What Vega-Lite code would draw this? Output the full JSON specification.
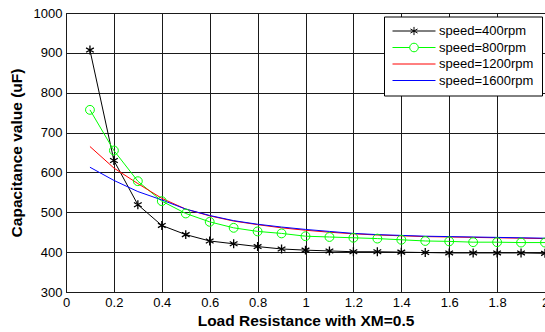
{
  "$schema": "https://vega.github.io/schema/vega-lite/v6.json",
  "width": 479,
  "height": 279,
  "autosize": {"type": "none"},
  "padding": {"left": 66, "top": 13, "right": 0, "bottom": 40},
  "background": "white",
  "config": {
    "font": "Liberation Sans",
    "view": {"stroke": "#000", "strokeWidth": 1},
    "axis": {
      "domain": false, "ticks": false, "grid": true,
      "gridColor": "#1a1a1a", "gridWidth": 1, "gridOpacity": 1,
      "labelFont": "Liberation Sans", "labelFontSize": 13, "labelColor": "#000",
      "titleFont": "Liberation Sans", "titleFontSize": 15.5, "titleFontWeight": "bold", "titleColor": "#000",
      "labelPadding": 4, "labelFlush": false, "labelOverlap": false
    }
  },
  "data": {"values": [
    {"x":0.1,"v":907,"s":"speed=400rpm"},{"x":0.2,"v":630,"s":"speed=400rpm"},{"x":0.3,"v":519,"s":"speed=400rpm"},{"x":0.4,"v":467,"s":"speed=400rpm"},{"x":0.5,"v":444,"s":"speed=400rpm"},{"x":0.6,"v":428,"s":"speed=400rpm"},{"x":0.7,"v":421,"s":"speed=400rpm"},{"x":0.8,"v":414,"s":"speed=400rpm"},{"x":0.9,"v":408,"s":"speed=400rpm"},{"x":1.0,"v":405,"s":"speed=400rpm"},{"x":1.1,"v":403,"s":"speed=400rpm"},{"x":1.2,"v":401,"s":"speed=400rpm"},{"x":1.3,"v":401,"s":"speed=400rpm"},{"x":1.4,"v":400,"s":"speed=400rpm"},{"x":1.5,"v":399,"s":"speed=400rpm"},{"x":1.6,"v":398,"s":"speed=400rpm"},{"x":1.7,"v":398,"s":"speed=400rpm"},{"x":1.8,"v":398,"s":"speed=400rpm"},{"x":1.9,"v":398,"s":"speed=400rpm"},{"x":2.0,"v":397,"s":"speed=400rpm"},
    {"x":0.1,"v":757,"s":"speed=800rpm"},{"x":0.2,"v":655,"s":"speed=800rpm"},{"x":0.3,"v":578,"s":"speed=800rpm"},{"x":0.4,"v":528,"s":"speed=800rpm"},{"x":0.5,"v":497,"s":"speed=800rpm"},{"x":0.6,"v":476,"s":"speed=800rpm"},{"x":0.7,"v":461,"s":"speed=800rpm"},{"x":0.8,"v":452,"s":"speed=800rpm"},{"x":0.9,"v":447,"s":"speed=800rpm"},{"x":1.0,"v":440,"s":"speed=800rpm"},{"x":1.1,"v":438,"s":"speed=800rpm"},{"x":1.2,"v":436,"s":"speed=800rpm"},{"x":1.3,"v":434,"s":"speed=800rpm"},{"x":1.4,"v":431,"s":"speed=800rpm"},{"x":1.5,"v":428,"s":"speed=800rpm"},{"x":1.6,"v":427,"s":"speed=800rpm"},{"x":1.7,"v":425,"s":"speed=800rpm"},{"x":1.8,"v":425,"s":"speed=800rpm"},{"x":1.9,"v":424,"s":"speed=800rpm"},{"x":2.0,"v":424,"s":"speed=800rpm"},
    {"x":0.1,"v":665,"s":"speed=1200rpm"},{"x":0.2,"v":611,"s":"speed=1200rpm"},{"x":0.3,"v":572,"s":"speed=1200rpm"},{"x":0.4,"v":535,"s":"speed=1200rpm"},{"x":0.5,"v":508,"s":"speed=1200rpm"},{"x":0.6,"v":491,"s":"speed=1200rpm"},{"x":0.7,"v":478,"s":"speed=1200rpm"},{"x":0.8,"v":469,"s":"speed=1200rpm"},{"x":0.9,"v":461,"s":"speed=1200rpm"},{"x":1.0,"v":455,"s":"speed=1200rpm"},{"x":1.1,"v":450,"s":"speed=1200rpm"},{"x":1.2,"v":446,"s":"speed=1200rpm"},{"x":1.3,"v":443,"s":"speed=1200rpm"},{"x":1.4,"v":441,"s":"speed=1200rpm"},{"x":1.5,"v":439,"s":"speed=1200rpm"},{"x":1.6,"v":438,"s":"speed=1200rpm"},{"x":1.7,"v":437,"s":"speed=1200rpm"},{"x":1.8,"v":436,"s":"speed=1200rpm"},{"x":1.9,"v":435,"s":"speed=1200rpm"},{"x":2.0,"v":434,"s":"speed=1200rpm"},
    {"x":0.1,"v":613,"s":"speed=1600rpm"},{"x":0.2,"v":580,"s":"speed=1600rpm"},{"x":0.3,"v":552,"s":"speed=1600rpm"},{"x":0.4,"v":531,"s":"speed=1600rpm"},{"x":0.5,"v":508,"s":"speed=1600rpm"},{"x":0.6,"v":492,"s":"speed=1600rpm"},{"x":0.7,"v":479,"s":"speed=1600rpm"},{"x":0.8,"v":470,"s":"speed=1600rpm"},{"x":0.9,"v":463,"s":"speed=1600rpm"},{"x":1.0,"v":457,"s":"speed=1600rpm"},{"x":1.1,"v":452,"s":"speed=1600rpm"},{"x":1.2,"v":447,"s":"speed=1600rpm"},{"x":1.3,"v":444,"s":"speed=1600rpm"},{"x":1.4,"v":442,"s":"speed=1600rpm"},{"x":1.5,"v":440,"s":"speed=1600rpm"},{"x":1.6,"v":439,"s":"speed=1600rpm"},{"x":1.7,"v":438,"s":"speed=1600rpm"},{"x":1.8,"v":437,"s":"speed=1600rpm"},{"x":1.9,"v":436,"s":"speed=1600rpm"},{"x":2.0,"v":435,"s":"speed=1600rpm"}
  ]},
  "encoding": {
    "x": {"field": "x", "type": "quantitative", "scale": {"domain": [0, 2], "nice": false},
          "axis": {"values": [0,0.2,0.4,0.6,0.8,1,1.2,1.4,1.6,1.8,2], "format": "~g", "title": "Load Resistance with XM=0.5", "titlePadding": 4, "labelOverlap": false}},
    "y": {"field": "v", "type": "quantitative", "scale": {"domain": [300, 1000], "nice": false},
          "axis": {"values": [300,400,500,600,700,800,900,1000], "format": "d", "title": "Capacitance value (uF)", "titlePadding": 9, "labelOverlap": false}}
  },
  "layer": [
    {
      "mark": {"type": "line", "strokeWidth": 1},
      "encoding": {
        "color": {"field": "s", "type": "nominal",
          "scale": {"domain": ["speed=400rpm","speed=800rpm","speed=1200rpm","speed=1600rpm"], "range": ["#000000","#00ff00","#ff0000","#0000ff"]},
          "legend": {
            "orient": "none", "legendX": 318, "legendY": 3.5, "title": null,
            "padding": 8, "strokeColor": "#000", "fillColor": "#fff", "cornerRadius": 0,
            "symbolSize": 1849, "symbolStrokeWidth": 1, "clipHeight": 13, "rowPadding": 2.5,
            "labelFontSize": 13, "labelFont": "Liberation Sans", "labelColor": "#000", "labelOffset": 3, "symbolOffset": 0,
            "encode": {"symbols": {"update": {
              "shape": {"signal": "datum.value === 'speed=400rpm' ? 'M-1,0L1,0M0,-0.19L0,0.19M-0.165,-0.095L0.165,0.095M-0.165,0.095L0.165,-0.095' : (datum.value === 'speed=800rpm' ? 'M-1,0L-0.2,0M0.2,0L1,0M0.2,0A0.2,0.2 0 1,1 -0.2,0A0.2,0.2 0 1,1 0.2,0' : 'M-1,0L1,0')"},
              "fill": {"value": "transparent"},
              "size": {"value": 1849}
            }}}
          }
        }
      }
    },
    {
      "transform": [{"filter": "datum.s === 'speed=400rpm'"}],
      "mark": {"type": "point", "shape": "M0,-1L0,1M-0.866,-0.5L0.866,0.5M-0.866,0.5L0.866,-0.5", "size": 80, "filled": false, "color": "#000", "stroke": "#000", "strokeWidth": 1.3, "opacity": 1}
    },
    {
      "transform": [{"filter": "datum.s === 'speed=800rpm'"}],
      "mark": {"type": "point", "shape": "circle", "size": 78, "filled": false, "color": "#00ff00", "stroke": "#00ff00", "strokeWidth": 1, "opacity": 1}
    }
  ]
}
